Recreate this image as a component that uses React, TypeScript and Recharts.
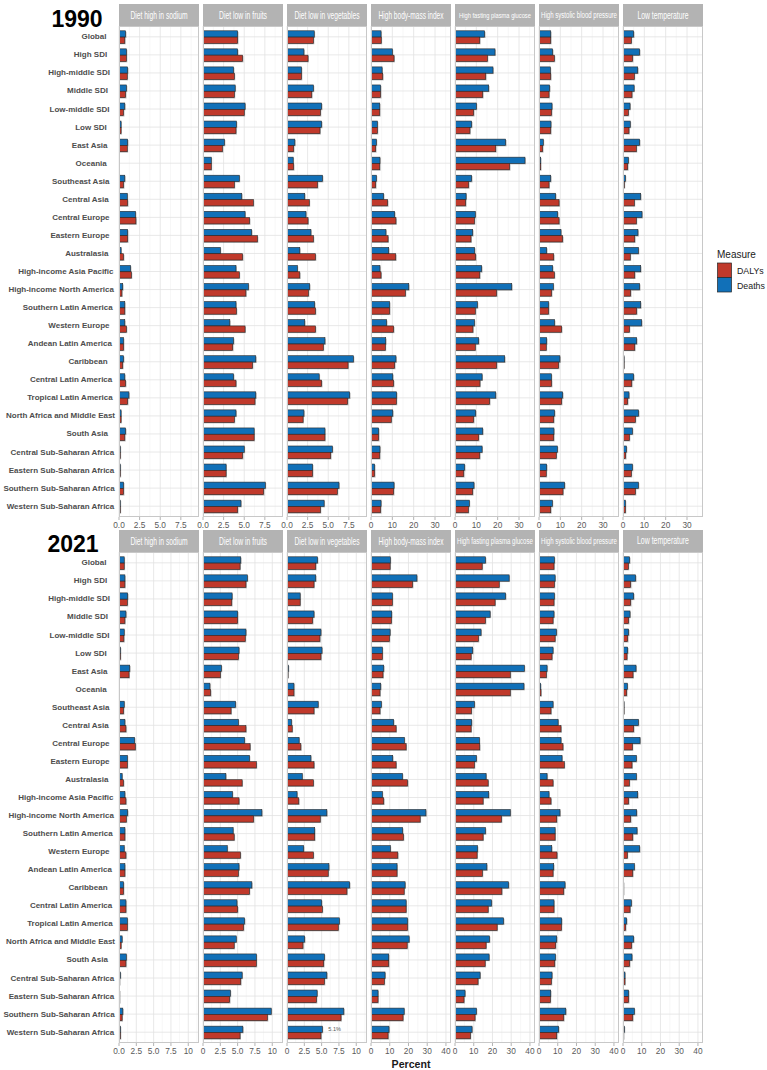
import { BarChart, Bar, XAxis, YAxis, CartesianGrid, LabelList } from "recharts";

const regions = [
  "Global",
  "High SDI",
  "High-middle SDI",
  "Middle SDI",
  "Low-middle SDI",
  "Low SDI",
  "East Asia",
  "Oceania",
  "Southeast Asia",
  "Central Asia",
  "Central Europe",
  "Eastern Europe",
  "Australasia",
  "High-income Asia Pacific",
  "High-income North America",
  "Southern Latin America",
  "Western Europe",
  "Andean Latin America",
  "Caribbean",
  "Central Latin America",
  "Tropical Latin America",
  "North Africa and Middle East",
  "South Asia",
  "Central Sub-Saharan Africa",
  "Eastern Sub-Saharan Africa",
  "Southern Sub-Saharan Africa",
  "Western Sub-Saharan Africa",
];

const risks = [
  "Diet high in sodium",
  "Diet low in fruits",
  "Diet low in vegetables",
  "High body-mass index",
  "High fasting plasma glucose",
  "High systolic blood pressure",
  "Low temperature",
];

// 1990, percent attributable
const sodiumDeaths1990 = [0.8, 0.9, 1.05, 0.9, 0.7, 0.25, 1.05, 0, 0.7, 1.0, 2.0, 1.05, 0.25, 1.4, 0.45, 0.7, 0.7, 0.55, 0.55, 0.7, 1.2, 0.25, 0.8, 0.15, 0.15, 0.55, 0.15];
const sodiumDalys1990 = [0.7, 0.9, 1.0, 0.8, 0.55, 0.25, 1.0, 0, 0.55, 1.05, 2.05, 1.05, 0.55, 1.5, 0.35, 0.7, 0.9, 0.55, 0.45, 0.8, 1.05, 0.25, 0.7, 0.15, 0.15, 0.55, 0.15];
const fruitsDeaths1990 = [4.2, 4.2, 3.7, 3.9, 5.1, 4.05, 2.6, 1.0, 4.4, 4.7, 5.1, 5.9, 2.1, 4.0, 5.5, 4.0, 3.25, 3.7, 6.4, 3.7, 6.4, 4.0, 6.2, 5.0, 2.8, 7.55, 4.6];
const fruitsDalys1990 = [4.2, 4.8, 3.8, 3.8, 5.0, 4.0, 2.35, 1.0, 3.8, 6.1, 5.65, 6.6, 4.8, 4.4, 5.2, 4.05, 5.1, 3.6, 6.0, 4.0, 6.3, 3.8, 6.2, 4.8, 2.8, 7.35, 4.2];
const vegDeaths1990 = [3.3, 2.05, 1.75, 3.2, 4.2, 4.2, 0.95, 0.75, 4.3, 2.15, 2.3, 2.9, 1.55, 1.25, 2.75, 3.35, 2.15, 4.6, 8.05, 3.9, 7.6, 2.05, 4.6, 5.5, 3.1, 6.3, 4.5];
const vegDalys1990 = [3.2, 2.55, 1.75, 3.0, 4.05, 4.0, 0.8, 0.8, 3.7, 2.7, 2.55, 3.2, 3.45, 1.55, 2.6, 3.45, 3.45, 4.4, 7.4, 4.2, 7.35, 1.95, 4.6, 5.3, 3.1, 6.1, 4.05];
const bmiDeaths1990 = [4.7, 10, 5.2, 4.5, 4.1, 3.0, 2.5, 4.2, 2.5, 5.9, 11.1, 7.0, 8.3, 4.2, 17.7, 8.75, 7.3, 6.9, 11.7, 10.2, 12.0, 10.2, 3.6, 4.2, 1.7, 10.8, 4.7];
const bmiDalys1990 = [4.8, 10.8, 5.5, 4.5, 4.1, 3.0, 2.2, 4.1, 2.2, 7.8, 11.7, 8.0, 11.6, 4.7, 16.1, 8.75, 10.6, 6.7, 11.1, 10.6, 11.9, 9.5, 3.6, 4.1, 1.7, 10.6, 4.5];
const glucoseDeaths1990 = [13.9, 18.75, 17.8, 15.8, 10.0, 7.8, 23.75, 32.8, 7.8, 5.2, 9.5, 8.3, 9.2, 12.5, 26.6, 10.5, 9.1, 11.1, 23.3, 12.7, 19.1, 9.7, 13.0, 12.7, 4.5, 8.9, 6.7];
const glucoseDalys1990 = [11.6, 15.2, 14.4, 13.0, 8.75, 7.0, 19.1, 25.6, 6.4, 5.0, 9.1, 7.5, 9.7, 11.6, 19.5, 9.5, 8.4, 9.5, 19.5, 11.7, 16.25, 8.75, 11.1, 11.6, 4.1, 8.3, 6.25];
const sbpDeaths1990 = [5.5, 6.4, 5.3, 5.0, 6.1, 5.6, 2.0, 0.8, 5.5, 7.8, 8.75, 10.3, 3.6, 6.4, 6.7, 4.5, 7.3, 3.6, 9.8, 5.8, 11.1, 7.3, 7.0, 8.6, 3.6, 12.0, 6.25];
const sbpDalys1990 = [5.5, 7.2, 5.5, 4.7, 5.9, 5.5, 1.7, 0.8, 4.7, 9.4, 9.4, 11.1, 6.9, 7.2, 5.9, 4.5, 10.6, 3.4, 9.2, 5.9, 10.6, 6.9, 6.9, 8.1, 3.4, 11.25, 5.5];
const tempDeaths1990 = [5.0, 7.8, 6.9, 5.2, 3.3, 3.4, 7.8, 2.5, 1.1, 8.3, 8.9, 7.0, 7.2, 8.3, 7.8, 8.3, 8.75, 6.4, 0.5, 5.0, 2.8, 7.3, 4.4, 1.6, 4.4, 7.2, 1.1];
const tempDalys1990 = [3.9, 4.5, 5.3, 4.2, 2.5, 2.8, 6.25, 2.2, 0.6, 5.3, 6.25, 5.5, 3.4, 5.5, 3.6, 6.4, 3.0, 5.5, 0.5, 4.1, 2.2, 5.8, 3.0, 1.25, 3.9, 5.8, 1.1];

// 2021, percent attributable
const sodiumDeaths2021 = [0.75, 0.85, 1.25, 1.0, 0.75, 0.2, 1.55, 0, 0.75, 0.85, 2.25, 1.2, 0.45, 0.85, 1.25, 0.85, 0.75, 0.85, 0.65, 1.0, 1.2, 0.45, 1.05, 0.2, 0.1, 0.55, 0.2];
const sodiumDalys2021 = [0.75, 0.85, 1.2, 0.85, 0.7, 0.2, 1.45, 0, 0.65, 1.0, 2.35, 1.2, 0.65, 1.0, 1.05, 0.85, 1.0, 0.85, 0.65, 1.0, 1.2, 0.3, 1.0, 0.1, 0.1, 0.45, 0.2];
const fruitsDeaths2021 = [5.45, 6.4, 4.2, 5.0, 6.2, 5.2, 2.65, 1.0, 4.7, 5.1, 6.0, 6.7, 3.3, 4.25, 8.5, 4.35, 3.5, 5.2, 7.05, 4.9, 6.0, 4.8, 7.7, 5.65, 3.95, 9.85, 5.75];
const fruitsDalys2021 = [5.35, 6.2, 4.15, 5.0, 6.1, 5.1, 2.5, 1.1, 4.05, 6.2, 6.8, 7.7, 5.65, 5.2, 7.3, 4.5, 5.4, 5.1, 6.7, 5.0, 5.85, 4.5, 7.7, 5.45, 3.85, 9.3, 5.35];
const vegDeaths2021 = [4.4, 4.15, 1.9, 3.9, 4.9, 5.05, 0.2, 1.0, 4.5, 0.65, 1.75, 3.45, 2.2, 1.45, 5.75, 4.0, 2.4, 6.05, 9.05, 5.0, 7.55, 2.55, 5.4, 5.75, 4.35, 8.2, 5.1];
const vegDalys2021 = [4.15, 3.9, 1.9, 3.7, 4.75, 4.9, 0.15, 1.0, 3.9, 0.75, 2.0, 3.9, 3.8, 1.7, 4.8, 4.0, 3.8, 5.95, 8.65, 5.1, 7.4, 2.3, 5.3, 5.4, 4.25, 7.8, 4.9];
const bmiDeaths2021 = [10.3, 24.5, 11.4, 11.05, 10.2, 6.05, 6.8, 5.2, 5.5, 12.1, 17.8, 11.6, 16.8, 6.05, 29.3, 16.9, 10.3, 13.9, 18.2, 18.75, 19.5, 20.35, 9.45, 7.5, 3.75, 17.7, 9.6];
const bmiDalys2021 = [10.2, 22.2, 11.4, 10.9, 9.8, 6.05, 6.4, 4.8, 4.8, 13.4, 18.75, 13.4, 19.5, 6.8, 26.25, 17.3, 14.3, 13.9, 17.7, 18.75, 19.5, 19.3, 9.45, 7.1, 3.75, 17.1, 9.1];
const glucoseDeaths2021 = [16.25, 28.9, 27.0, 18.75, 13.9, 9.45, 37.0, 36.8, 10.35, 8.9, 13.0, 11.4, 16.6, 18.0, 29.5, 16.25, 12.0, 17.0, 28.6, 19.5, 25.9, 18.4, 18.2, 13.4, 5.35, 11.4, 9.1];
const glucoseDalys2021 = [14.5, 23.6, 21.4, 16.25, 12.5, 8.6, 29.5, 29.5, 8.75, 8.6, 13.2, 10.35, 17.7, 15.0, 24.8, 15.0, 11.8, 14.6, 25.0, 17.7, 22.5, 16.6, 16.1, 12.3, 4.8, 10.7, 8.2];
const sbpDeaths2021 = [8.2, 8.6, 8.2, 8.0, 9.3, 7.5, 4.3, 0.9, 7.5, 10.2, 11.75, 12.3, 4.3, 5.35, 11.2, 8.6, 6.8, 7.85, 13.9, 8.0, 12.1, 9.45, 8.75, 6.95, 6.25, 14.3, 10.5];
const sbpDalys2021 = [8.0, 8.2, 8.0, 7.5, 8.6, 6.95, 3.9, 1.05, 6.4, 11.75, 12.8, 13.5, 7.5, 6.4, 9.45, 8.6, 9.6, 7.5, 13.2, 8.0, 11.95, 8.9, 8.4, 6.6, 6.05, 13.2, 9.45];
const tempDeaths2021 = [3.55, 6.75, 5.7, 3.75, 3.0, 2.5, 6.95, 2.3, 0.55, 8.2, 9.1, 7.1, 7.1, 7.85, 7.3, 7.5, 8.9, 6.05, 0.35, 4.45, 1.95, 5.7, 4.8, 1.05, 3.0, 6.05, 0.7];
const tempDalys2021 = [2.85, 4.1, 4.1, 3.0, 2.5, 2.15, 5.35, 1.95, 0.55, 5.7, 5.0, 4.8, 3.4, 3.0, 4.1, 5.2, 2.3, 5.2, 0.35, 3.75, 1.4, 4.6, 3.55, 1.05, 3.0, 5.2, 0.35];

// annotated bar in the 2021 vegetables panel
const vegNote2021 = { region: "Western Sub-Saharan Africa", text: "5.1%" };

const RED = "#C0392B";
const BLUE = "#1170B8";
const FONT = "'Liberation Sans', Arial, sans-serif";

const FACET_LEFT = [119, 203, 287, 371, 455, 539, 623];
const FACET_W = 80;
const Y_W = 119;
const PLOT_H = 491;
const PAD = 1.8;
const AXIS_H = 14;
const SIDE = 9; // room either side of a facet so edge tick labels are not clipped

type Axis = { max: number; ticks: number[]; minor: number[] };

const dietAxis1990: Axis = { max: 9.7, ticks: [0, 2.5, 5, 7.5], minor: [1.25, 3.75, 6.25, 8.75] };
const otherAxis1990: Axis = { max: 37.5, ticks: [0, 10, 20, 30], minor: [5, 15, 25, 35] };
const dietAxis2021: Axis = { max: 11.55, ticks: [0, 2.5, 5, 7.5, 10], minor: [1.25, 3.75, 6.25, 8.75, 11.25] };
const otherAxis2021: Axis = { max: 42.7, ticks: [0, 10, 20, 30, 40], minor: [5, 15, 25, 35] };

type Series = { deaths: number[]; dalys: number[] };

const series1990: Series[] = [
  { deaths: sodiumDeaths1990, dalys: sodiumDalys1990 },
  { deaths: fruitsDeaths1990, dalys: fruitsDalys1990 },
  { deaths: vegDeaths1990, dalys: vegDalys1990 },
  { deaths: bmiDeaths1990, dalys: bmiDalys1990 },
  { deaths: glucoseDeaths1990, dalys: glucoseDalys1990 },
  { deaths: sbpDeaths1990, dalys: sbpDalys1990 },
  { deaths: tempDeaths1990, dalys: tempDalys1990 },
];

const series2021: Series[] = [
  { deaths: sodiumDeaths2021, dalys: sodiumDalys2021 },
  { deaths: fruitsDeaths2021, dalys: fruitsDalys2021 },
  { deaths: vegDeaths2021, dalys: vegDalys2021 },
  { deaths: bmiDeaths2021, dalys: bmiDalys2021 },
  { deaths: glucoseDeaths2021, dalys: glucoseDalys2021 },
  { deaths: sbpDeaths2021, dalys: sbpDalys2021 },
  { deaths: tempDeaths2021, dalys: tempDalys2021 },
];

// strip label target widths / sizes (text is squeezed horizontally to look condensed)
const stripText1990 = [
  { len: 57, size: 10 },
  { len: 48, size: 10 },
  { len: 65, size: 10 },
  { len: 65, size: 10 },
  { len: 72, size: 7.5 },
  { len: 76, size: 9 },
  { len: 51, size: 10 },
];
const stripText2021 = [
  { len: 57, size: 10 },
  { len: 48, size: 10 },
  { len: 65, size: 10 },
  { len: 65, size: 10 },
  { len: 76, size: 9 },
  { len: 76, size: 9 },
  { len: 52, size: 10 },
];

// Arial / Liberation Sans advance widths (em) for the strip text
const ADV: Record<string, number> = {
  " ": 0.278, "-": 0.333, a: 0.556, b: 0.556, c: 0.5, d: 0.556, e: 0.556, f: 0.278, g: 0.556,
  h: 0.556, i: 0.222, j: 0.222, k: 0.5, l: 0.222, m: 0.833, n: 0.556, o: 0.556, p: 0.556,
  q: 0.556, r: 0.333, s: 0.5, t: 0.278, u: 0.556, v: 0.5, w: 0.722, x: 0.5, y: 0.5, z: 0.5,
  D: 0.722, H: 0.722, L: 0.556,
};
const textWidth = (s: string, size: number) =>
  s.split("").reduce((acc, ch) => acc + (ADV[ch] ?? 0.556), 0) * size;

function ShadowBar(props: any) {
  const { x, y, width, height, fill } = props;
  if (!width || width < 0.2) return null;
  return (
    <g>
      <rect x={x + 0.9} y={y + 0.9} width={width} height={height} fill="#6f6f6f" fillOpacity={0.5} />
      <rect x={x} y={y} width={width} height={height} fill={fill} stroke="#262626" strokeWidth={0.6} />
    </g>
  );
}

function RegionTick(props: any) {
  const { y, payload } = props;
  const label = String(payload.value);
  const w = label.length * 3.95;
  return (
    <text
      x={104 + 0.1 * w}
      y={y}
      textAnchor="end"
      dominantBaseline="central"
      fontSize={8}
      fontWeight="bold"
      fill="#4D4D4D"
      fontFamily={FONT}
    >
      {label}
    </text>
  );
}

function NoteLabel(props: any) {
  const { x, y, width, height, value } = props;
  if (!value) return null;
  return (
    <text x={x + width + 6} y={y + height / 2} fontSize={5.5} fill="#555" dominantBaseline="central" fontFamily={FONT}>
      {value}
    </text>
  );
}

const vGen = (vals: number[], max: number) => ({ offset }: any) =>
  vals.map((v) => offset.left + (v / max) * offset.width);

const hGen = ({ offset }: any) => {
  const band = (offset.height - 2 * PAD) / regions.length;
  return regions.map((_, i) => offset.top + PAD + (i + 0.5) * band);
};

function Facet({
  idx,
  top,
  s,
  axis,
  fmt,
  note,
}: {
  idx: number;
  top: number;
  s: Series;
  axis: Axis;
  fmt: (v: number) => string;
  note?: { region: string; text: string };
}) {
  const first = idx === 0;
  const rows = regions.map((region, i) => ({
    region,
    Deaths: s.deaths[i],
    DALYs: s.dalys[i],
    note: note && note.region === region ? note.text : null,
  }));
  const left = first ? 0 : FACET_LEFT[idx] - SIDE;
  const width = first ? Y_W + FACET_W + SIDE : FACET_W + 2 * SIDE;
  return (
    <div style={{ position: "absolute", left, top }}>
      <BarChart
        width={width}
        height={PLOT_H + AXIS_H}
        data={rows}
        layout="vertical"
        margin={{ top: 0, right: SIDE, bottom: 0, left: first ? 0 : SIDE }}
        barSize={6.3}
        barGap={0}
      >
        <CartesianGrid
          horizontal={false}
          stroke="#F1F1F1"
          strokeWidth={0.6}
          verticalCoordinatesGenerator={vGen(axis.minor, axis.max)}
        />
        <CartesianGrid
          stroke="#E2E2E2"
          strokeWidth={0.8}
          verticalCoordinatesGenerator={vGen(axis.ticks, axis.max)}
          horizontalCoordinatesGenerator={hGen}
        />
        <XAxis
          type="number"
          domain={[0, axis.max]}
          ticks={axis.ticks}
          interval={0}
          allowDataOverflow
          tickFormatter={fmt}
          axisLine={false}
          tickLine={{ stroke: "#B3B3B3" }}
          tickSize={3}
          tickMargin={2}
          height={AXIS_H}
          tick={{ fontSize: 8.3, fill: "#5A5A5A", fontFamily: FONT }}
        />
        <YAxis
          type="category"
          dataKey="region"
          width={first ? Y_W : 0}
          hide={!first}
          interval={0}
          axisLine={false}
          tickLine={false}
          padding={{ top: PAD, bottom: PAD }}
          tick={<RegionTick />}
        />
        <Bar dataKey="Deaths" fill={BLUE} shape={ShadowBar} isAnimationActive={false}>
          {note && <LabelList dataKey="note" content={NoteLabel} />}
        </Bar>
        <Bar dataKey="DALYs" fill={RED} shape={ShadowBar} isAnimationActive={false} />
      </BarChart>
    </div>
  );
}

const fmtTop = (v: number) => v.toFixed(1);
const fmtInt = (v: number) => String(v);
const fmtDietFirst2021 = (v: number) => (v === 10 ? "10" : v.toFixed(1));
const fmtDiet2021 = (v: number) => (v === 0 ? "0" : v === 10 ? "10" : v.toFixed(1));

function Strips({ top, spec }: { top: number; spec: { len: number; size: number }[] }) {
  return (
    <g>
      {risks.map((r, i) => {
        const sx = spec[i].len / textWidth(r, spec[i].size);
        return (
          <g key={r}>
            <rect x={FACET_LEFT[i]} y={top} width={FACET_W} height={22} fill="#B3B3B3" />
            <g transform={`translate(${FACET_LEFT[i] + FACET_W / 2} ${top + 11}) scale(${sx} 1)`}>
              <text
                x={0}
                y={0}
                textAnchor="middle"
                dominantBaseline="central"
                fontSize={spec[i].size}
                fill="#FFFFFF"
                fontFamily={FONT}
              >
                {r}
              </text>
            </g>
          </g>
        );
      })}
    </g>
  );
}

function Borders({ top }: { top: number }) {
  return (
    <g>
      {FACET_LEFT.map((x) => (
        <rect key={x} x={x + 0.5} y={top + 0.5} width={FACET_W - 1} height={PLOT_H - 1} fill="none" stroke="#C8C8C8" strokeWidth={1} />
      ))}
    </g>
  );
}

const TOP1 = 26;
const TOP2 = 552;

export default function App() {
  return (
    <div style={{ position: "absolute", left: 0, top: 0, width: 767, height: 1070, background: "#fff" }}>
      {series1990.map((s, i) => (
        <Facet key={`a${i}`} idx={i} top={TOP1} s={s} axis={i < 3 ? dietAxis1990 : otherAxis1990} fmt={i < 3 ? fmtTop : fmtInt} />
      ))}
      {series2021.map((s, i) => (
        <Facet
          key={`b${i}`}
          idx={i}
          top={TOP2}
          s={s}
          axis={i < 3 ? dietAxis2021 : otherAxis2021}
          fmt={i === 0 ? fmtDietFirst2021 : i < 3 ? fmtDiet2021 : fmtInt}
          note={i === 2 ? vegNote2021 : undefined}
        />
      ))}
      <svg width={767} height={1070} style={{ position: "absolute", left: 0, top: 0, pointerEvents: "none" }}>
        <text x={77} y={27} textAnchor="middle" fontSize={23} fontWeight="bold" fill="#000" fontFamily={FONT}>
          1990
        </text>
        <text x={73} y={551.5} textAnchor="middle" fontSize={23} fontWeight="bold" fill="#000" fontFamily={FONT}>
          2021
        </text>
        <Strips top={4} spec={stripText1990} />
        <Strips top={530} spec={stripText2021} />
        <Borders top={TOP1} />
        <Borders top={TOP2} />
        <text x={411} y={1067.5} textAnchor="middle" fontSize={10.6} fontWeight="bold" fill="#1A1A1A" fontFamily={FONT}>
          Percent
        </text>
        <g fontFamily={FONT}>
          <text x={717} y={257.5} fontSize={10} fill="#1A1A1A">
            Measure
          </text>
          <rect x={717.5} y={263} width={14} height={14.5} fill={RED} stroke="#262626" strokeWidth={0.7} />
          <rect x={717.5} y={277.5} width={14} height={14.5} fill={BLUE} stroke="#262626" strokeWidth={0.7} />
          <text x={737} y={271} fontSize={8.8} fill="#1A1A1A" dominantBaseline="central">
            DALYs
          </text>
          <text x={737} y={285.5} fontSize={8.8} fill="#1A1A1A" dominantBaseline="central">
            Deaths
          </text>
        </g>
      </svg>
    </div>
  );
}
